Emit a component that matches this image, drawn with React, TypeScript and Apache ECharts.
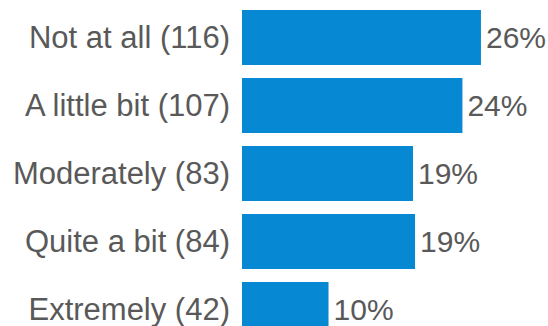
import React, { useEffect, useRef } from "react";
import * as echarts from "echarts";

const categories = ["Not at all", "A little bit", "Moderately", "Quite a bit", "Extremely"];
const counts = [116, 107, 83, 84, 42];
const percentLabels = ["26%", "24%", "19%", "19%", "10%"];

export default function App() {
  const ref = useRef<HTMLDivElement>(null);
  useEffect(() => {
    document.body.style.margin = "0";
    document.body.style.overflow = "hidden";
    const chart = echarts.init(ref.current!, null, { renderer: "svg" });
    chart.setOption({
      animation: false,
      grid: { left: 242, right: 17.6, top: 3.5, bottom: 0.5, containLabel: false },
      xAxis: { type: "value", min: 0, max: 140, show: false },
      yAxis: {
        type: "category",
        inverse: true,
        data: categories.map((c, i) => `${c} (${counts[i]})`),
        axisLine: { show: false },
        axisTick: { show: false },
        axisLabel: {
          margin: 12,
          fontSize: 31,
          color: "#595959",
          fontFamily: "Liberation Sans, Arial, sans-serif",
        },
      },
      series: [
        {
          type: "bar",
          data: counts,
          barCategoryGap: "19%",
          itemStyle: { color: "#0788d3" },
          label: {
            show: true,
            position: "right",
            distance: 5,
            fontSize: 30,
            color: "#595959",
            fontFamily: "Liberation Sans, Arial, sans-serif",
            formatter: (p: any) => percentLabels[p.dataIndex],
          },
        },
      ],
    });
    return () => chart.dispose();
  }, []);
  return (
    <div style={{ position: "absolute", left: 0, top: 0, width: 548, height: 326, overflow: "hidden" }}>
      <div ref={ref} style={{ width: 548, height: 344 }} />
    </div>
  );
}
